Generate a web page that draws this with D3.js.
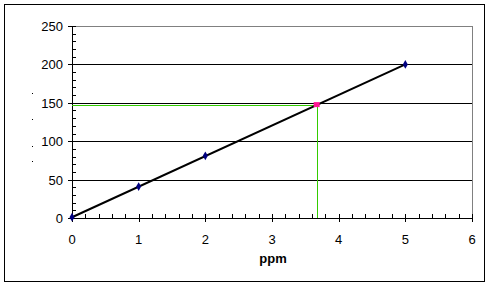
<!DOCTYPE html>
<html>
<head>
<meta charset="utf-8">
<script src="https://cdn.jsdelivr.net/npm/d3@7"></script>
<style>
  body { margin: 0; background: #fff; }
  svg { display: block; font-family: "Liberation Sans", Arial, sans-serif; }
</style>
</head>
<body>
<div class="chart"></div>
<script>
// Calibration points (ppm vs signal)
const ppm = [0, 1, 2, 5];
const signal = [1, 41, 81, 200];

// Trendline end points and the read-off sample
const trendX = [0, 5];
const trendY = [1, 200];
const sampleX = 3.67;
const sampleY = 147;

const yTicks = [0, 50, 100, 150, 200, 250];
const xTicks = [0, 1, 2, 3, 4, 5, 6];

const W = 492, H = 289;
const margin = {top: 26, right: 20, bottom: 71, left: 72};
const width = W - margin.left - margin.right;   // 400
const height = H - margin.top - margin.bottom;  // 192

const svg = d3.select(".chart")
    .append("svg")
    .attr("width", W)
    .attr("height", H);

// outer frame
svg.append("rect")
    .attr("x", 4.5).attr("y", 4.5)
    .attr("width", 480).attr("height", 277)
    .attr("fill", "none")
    .attr("stroke", "#000")
    .attr("stroke-width", 1);

const g = svg.append("g")
    .attr("transform", `translate(${margin.left}, ${margin.top})`);

const x = d3.scaleLinear().domain([0, 6]).range([0, width]);
const y = d3.scaleLinear().domain([0, 250]).range([height, 0]);

// gridlines
g.selectAll(".grid")
    .data(yTicks.filter(d => d > 0 && d < 250))
    .enter()
    .append("line")
        .attr("x1", 0).attr("x2", width)
        .attr("y1", d => Math.round(y(d)) + 0.5)
        .attr("y2", d => Math.round(y(d)) + 0.5)
        .attr("stroke", "#000");

// top and right edges of plot area
g.append("line")
    .attr("x1", 0).attr("x2", width + 0.5)
    .attr("y1", 0.5).attr("y2", 0.5)
    .attr("stroke", "#808080");
g.append("line")
    .attr("x1", width + 0.5).attr("x2", width + 0.5)
    .attr("y1", 0).attr("y2", height)
    .attr("stroke", "#808080");

// y axis: major ticks outside, minor inside
const yAxis = g.append("g").attr("class", "y-axis");
yAxis.append("line")
    .attr("x1", 0.5).attr("x2", 0.5)
    .attr("y1", 0).attr("y2", height + 0.5)
    .attr("stroke", "#000");
yAxis.selectAll(".minor")
    .data(d3.range(0, 251, 10))
    .enter()
    .append("line")
        .attr("x1", 0).attr("x2", 4)
        .attr("y1", d => Math.round(y(d)) + 0.5)
        .attr("y2", d => Math.round(y(d)) + 0.5)
        .attr("stroke", "#000");
yAxis.selectAll(".major")
    .data(yTicks)
    .enter()
    .append("line")
        .attr("x1", -4).attr("x2", 0)
        .attr("y1", d => Math.round(y(d)) + 0.5)
        .attr("y2", d => Math.round(y(d)) + 0.5)
        .attr("stroke", "#000");
yAxis.selectAll("text")
    .data(yTicks)
    .enter()
    .append("text")
        .attr("x", -9)
        .attr("y", d => y(d) + 5)
        .attr("text-anchor", "end")
        .attr("font-size", 13)
        .text(d => d);

// x axis: major ticks outside, minor inside
const xAxis = g.append("g")
    .attr("class", "x-axis")
    .attr("transform", `translate(0, ${height})`);
xAxis.append("line")
    .attr("x1", 0).attr("x2", width + 1)
    .attr("y1", 0.5).attr("y2", 0.5)
    .attr("stroke", "#000");
xAxis.selectAll(".minor")
    .data(d3.range(0, 6.01, 0.2))
    .enter()
    .append("line")
        .attr("x1", d => Math.round(x(d)) + 0.5)
        .attr("x2", d => Math.round(x(d)) + 0.5)
        .attr("y1", -4).attr("y2", 0)
        .attr("stroke", "#000");
xAxis.selectAll(".major")
    .data(xTicks)
    .enter()
    .append("line")
        .attr("x1", d => Math.round(x(d)) + 0.5)
        .attr("x2", d => Math.round(x(d)) + 0.5)
        .attr("y1", 0).attr("y2", 4)
        .attr("stroke", "#000");
xAxis.selectAll("text")
    .data(xTicks)
    .enter()
    .append("text")
        .attr("x", d => x(d))
        .attr("y", 26)
        .attr("text-anchor", "middle")
        .attr("font-size", 13)
        .text(d => d);

// axis label
g.append("text")
    .attr("x", width / 2 + 1)
    .attr("y", height + 45)
    .attr("text-anchor", "middle")
    .attr("font-size", 13)
    .attr("font-weight", "bold")
    .text("ppm");

// faint remnants of the y axis title
svg.selectAll(".dot")
    .data([93, 119, 146, 161])
    .enter()
    .append("rect")
        .attr("x", 32).attr("y", d => d)
        .attr("width", 1).attr("height", 1)
        .attr("fill", "#000");

// read-off guide lines
const gx = Math.round(x(sampleX));
const gy = Math.round(y(sampleY));
g.append("rect")
    .attr("x", 0).attr("y", gy)
    .attr("width", gx + 1).attr("height", 1)
    .attr("fill", "#33cc00");
g.append("rect")
    .attr("x", gx).attr("y", gy)
    .attr("width", 1).attr("height", height - gy)
    .attr("fill", "#33cc00");

// trendline
const line = d3.line().x(d => x(d[0])).y(d => y(d[1]));
g.append("path")
    .datum(d3.zip(trendX, trendY))
    .attr("d", line)
    .attr("fill", "none")
    .attr("stroke", "#000")
    .attr("stroke-width", 2);

// data markers (diamonds)
g.selectAll(".pt")
    .data(d3.zip(ppm, signal))
    .enter()
    .append("path")
        .attr("d", d3.symbol(d3.symbolDiamond, 22))
        .attr("transform", d => `translate(${x(d[0])}, ${y(d[1])})`)
        .attr("fill", "#000080");

// sample marker
g.append("rect")
    .attr("x", x(sampleX) - 3)
    .attr("y", y(sampleY) - 3)
    .attr("width", 6).attr("height", 5)
    .attr("fill", "#ff1493");
</script>
</body>
</html>
